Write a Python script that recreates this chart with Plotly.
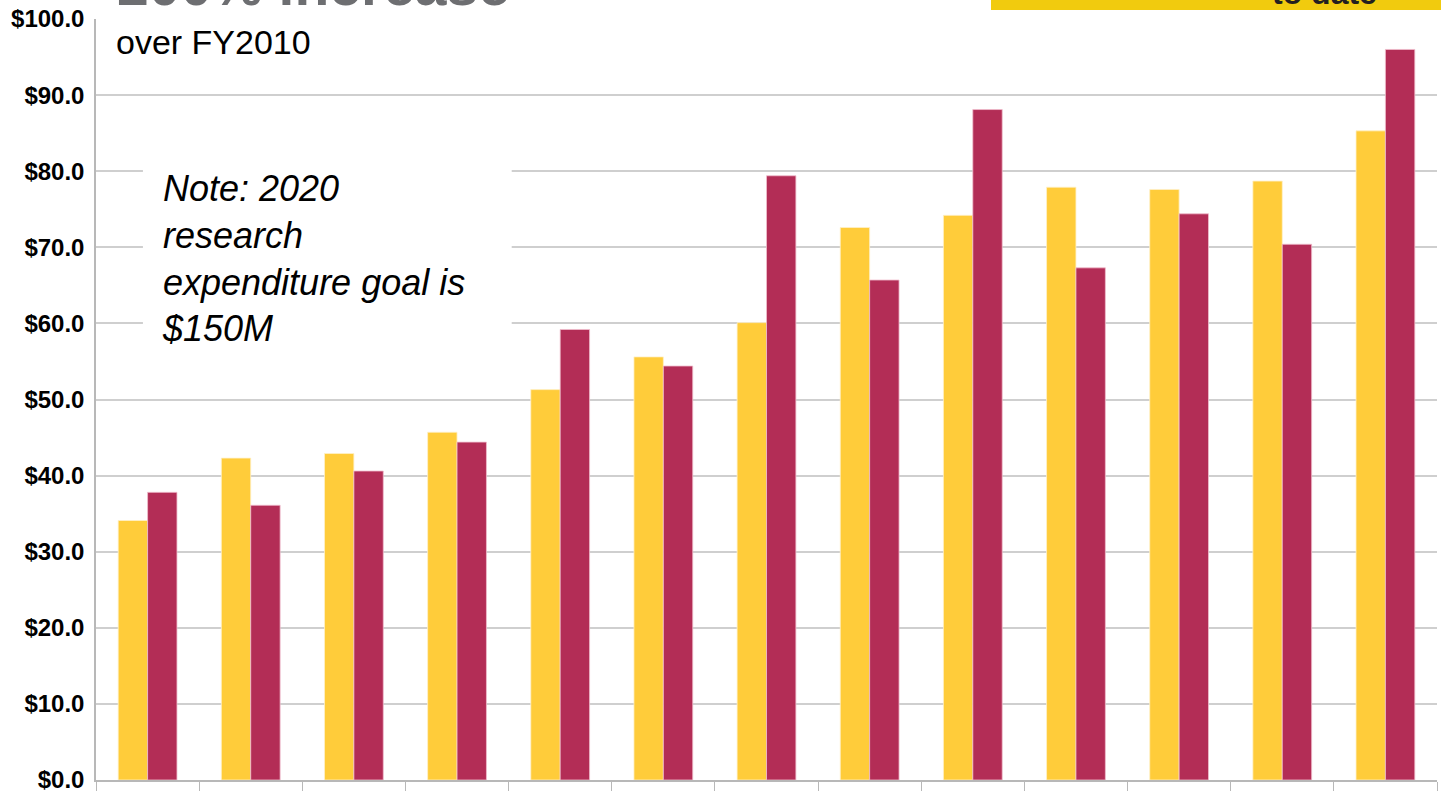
import plotly.graph_objects as go

# Data (values in $M)
years = ["FY2006", "FY2007", "FY2008", "FY2009", "FY2010", "FY2011", "FY2012",
         "FY2013", "FY2014", "FY2015", "FY2016", "FY2017", "FY2018"]
series_a = [34.1, 42.3, 42.9, 45.7, 51.3, 55.6, 60.1, 72.6, 74.2, 77.9, 77.6, 78.7, 85.3]
series_b = [37.8, 36.1, 40.6, 44.4, 59.2, 54.4, 79.4, 65.7, 88.1, 67.3, 74.4, 70.4, 96.0]
name_a = "Research awards"
name_b = "Research expenditures"
y_ticks = [0, 10, 20, 30, 40, 50, 60, 70, 80, 90, 100]
y_tick_text = ["$%.1f" % v for v in y_ticks]

YELLOW = "#FFCC3A"
MAROON = "#B32D56"
FONT = "Liberation Sans, Arial, sans-serif"

fig = go.Figure()
fig.add_trace(go.Bar(x=years, y=series_a, name=name_a, marker_color=YELLOW,
                     marker_line=dict(color="rgba(255,240,200,0.8)", width=1)))
fig.add_trace(go.Bar(x=years, y=series_b, name=name_b, marker_color=MAROON,
                     marker_line=dict(color="rgba(240,190,205,0.8)", width=1)))

fig.update_layout(
    width=1441, height=791,
    margin=dict(l=96, r=4, t=19, b=11),
    paper_bgcolor="white", plot_bgcolor="white",
    barmode="group", bargap=0.43, bargroupgap=0,
    showlegend=False,
    font=dict(family=FONT, color="black"),
)
fig.update_xaxes(
    type="category", showticklabels=False, showgrid=False, automargin=False,
    showline=True, linecolor="#B8B8B8", linewidth=1.5,
    ticks="outside", tickson="boundaries", ticklen=9, tickcolor="#B8B8B8", tickwidth=1.2,
)
fig.update_yaxes(
    range=[0, 100], tickvals=y_ticks, ticktext=y_tick_text, automargin=False,
    showgrid=True, gridcolor="#CFCFCF", gridwidth=1.5,
    showline=True, linecolor="#B8B8B8", linewidth=1.5,
    zeroline=False, ticks="", ticklabelstandoff=5, ticklabeloverflow="allow",
    tickfont=dict(family=FONT, size=24, weight="bold", color="black"),
)

# white box behind the note (covers gridlines)
fig.add_shape(type="rect", xref="paper", yref="y", x0=0.035, x1=0.310, y0=57.5, y1=86,
              fillcolor="white", line_width=0, layer="above")

# yellow header box, cut off at top
fig.add_shape(type="rect", xref="paper", yref="paper", x0=0.6674, x1=1.01, y0=1.0118, y1=1.08,
              fillcolor="#F1CB0E", line_width=0, layer="above")

fig.add_annotation(text="Note: 2020<br>research<br>expenditure goal is<br>$150M",
                   xref="paper", yref="y", x=0.0475, y=80.7, xanchor="left", yanchor="top",
                   align="left", showarrow=False,
                   font=dict(family=FONT, size=36, style="italic", color="black"))

fig.add_annotation(text="over FY2010", xref="paper", yref="y", x=0.0134, y=97.0,
                   xanchor="left", yanchor="middle", showarrow=False,
                   font=dict(family=FONT, size=34, color="black"))

fig.add_annotation(text="200% increase", xref="paper", yref="y", x=0.0142, y=99.95,
                   xanchor="left", yanchor="bottom", showarrow=False,
                   font=dict(family=FONT, size=57, weight="bold", color="#6D6E71"))

fig.add_annotation(text="to date", xref="paper", yref="paper", x=0.9568, y=1.008,
                   xanchor="right", yanchor="bottom", showarrow=False,
                   font=dict(family=FONT, size=32, weight="bold", color="#231F20"))

fig.write_html("out.html", config={"displayModeBar": False},
               post_script="document.body.style.margin='0';")
